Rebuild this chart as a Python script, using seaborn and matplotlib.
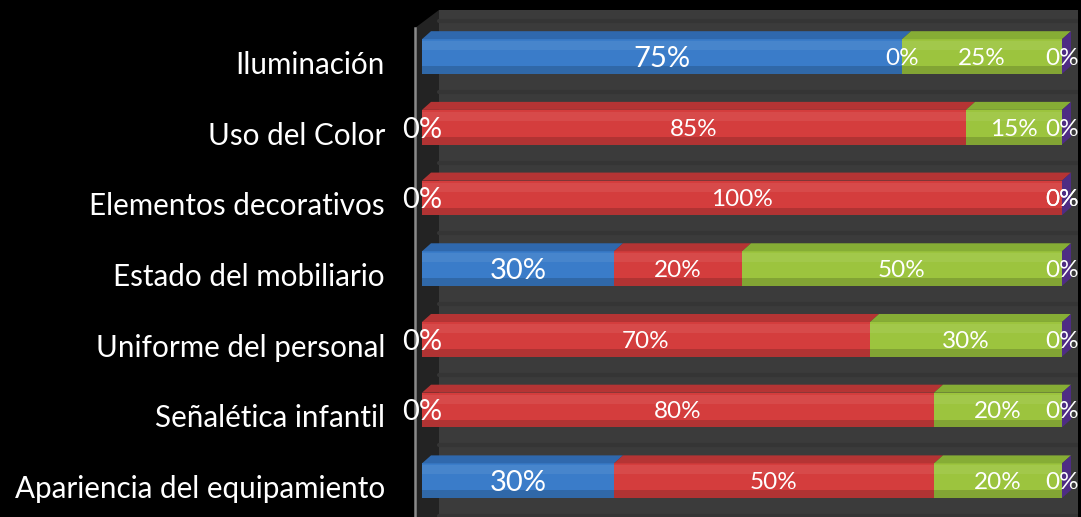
import numpy as np
import pandas as pd
import matplotlib
matplotlib.use("Agg")
import matplotlib.pyplot as plt
import seaborn as sns
from matplotlib.patches import Polygon, Rectangle
from matplotlib.transforms import ScaledTranslation

# ---------------- data ----------------
categories = ["Iluminación", "Uso del Color", "Elementos decorativos",
              "Estado del mobiliario", "Uniforme del personal",
              "Señalética infantil", "Apariencia del equipamiento"]
series_names = ["Serie 1", "Serie 2", "Serie 3", "Serie 4"]
serie_1 = [75, 0, 0, 30, 0, 0, 30]      # azul
serie_2 = [0, 85, 100, 20, 70, 80, 50]  # rojo
serie_3 = [25, 15, 0, 50, 30, 20, 20]   # verde
serie_4 = [0, 0, 0, 0, 0, 0, 0]         # morado

# ---------------- style ----------------
sns.set_style("dark")
plt.rcParams["font.family"] = ["Lato", "DejaVu Sans"]

front_col = {"Serie 1": "#3a7cc9", "Serie 2": "#d43d3d",
             "Serie 3": "#9cc43e", "Serie 4": "#5a3a90"}
top_col = {"Serie 1": "#2f68ad", "Serie 2": "#b53434",
           "Serie 3": "#86ad35", "Serie 4": "#4a2f7a"}
side_col = "#4e2c84"

values = np.array([serie_1, serie_2, serie_3, serie_4], dtype=float)
cums = np.cumsum(values, axis=0)
starts = cums - values

rows = []
for j, name in enumerate(series_names):
    for i, cat in enumerate(categories):
        rows.append({"cat": cat, "series": name, "cum": cums[j, i]})
df = pd.DataFrame(rows)

W, H, DPI = 1081, 517, 100
fig = plt.figure(figsize=(W / DPI, H / DPI), dpi=DPI, facecolor="black")
ax_left_px, ax_right_px, ax_top_px = 415, 1078, 10
ax = fig.add_axes([ax_left_px / W, 0, (ax_right_px - ax_left_px) / W, (H - ax_top_px) / H])
ax.set_facecolor("black")

bar_w = 0.49
sns.barplot(data=df, x="cum", y="cat", hue="series",
            hue_order=series_names[::-1], order=categories,
            palette=front_col, dodge=False, width=bar_w, orient="h",
            saturation=1, linewidth=0, legend=False, ax=ax, zorder=3)

# axis limits: 0 -> px 422, 100 -> px 1062
px_per_unit = 6.4
ax.set_xlim((ax_left_px - 422) / px_per_unit, 100 + (ax_right_px - 1062) / px_per_unit)
row0, row_step = 56.5, 70.7
ax.set_ylim((H - row0) / row_step, (ax_top_px - row0) / row_step)

# ---- 3D box decoration (back wall + left wall) ----
wall_x0 = 24 / (ax_right_px - ax_left_px)
ax.add_patch(Rectangle((wall_x0, 0), 1 - wall_x0, 1, transform=ax.transAxes,
                       facecolor="#3b3b3b", edgecolor="none", zorder=0))
ax.add_patch(Polygon([(0, 0), (0, 1 - 18 / (H - ax_top_px)), (wall_x0, 1), (wall_x0, 0)],
                     closed=True, transform=ax.transAxes,
                     facecolor="#232323", edgecolor="none", zorder=0.5))
# faint grid stripes on the back wall
for i in range(len(categories) + 1):
    ax.axhline(i - 0.5, xmin=wall_x0, xmax=1, color="#353535", lw=3, zorder=1)

for s in ["top", "right", "bottom"]:
    ax.spines[s].set_visible(False)
ax.spines["left"].set_color("#8a8a8a")
ax.spines["left"].set_linewidth(1.8)
ax.spines["left"].set_bounds(ax.get_ylim()[0], (28 - row0) / row_step)
ax.spines["left"].set_zorder(2)

# ---- 3D faces of the bars ----
fig.canvas.draw()
tD = ax.transData
tInv = tD.inverted()
dx, dy = 9, 8  # depth in pixels


def depth(pt):
    p = tD.transform(pt)
    return tInv.transform((p[0] + dx, p[1] + dy))


for i in range(len(categories)):
    y_top = i - bar_w / 2
    y_bot = i + bar_w / 2
    for j, name in enumerate(series_names):
        a, b = starts[j, i], cums[j, i]
        if b > a:
            pts = [(a, y_top), (b, y_top), tuple(depth((b, y_top))), tuple(depth((a, y_top)))]
            ax.add_patch(Polygon(pts, closed=True, facecolor=top_col[name],
                                 edgecolor="none", zorder=4))
            # light band near the top of the front face, darker band at the bottom
            ax.add_patch(Rectangle((a, y_top + bar_w * 0.06), b - a, bar_w * 0.26,
                                   facecolor="white", alpha=0.07, edgecolor="none", zorder=4))
            ax.add_patch(Rectangle((a, y_bot - bar_w * 0.22), b - a, bar_w * 0.22,
                                   facecolor="black", alpha=0.16, edgecolor="none", zorder=4))
    # right side face (end of the stack)
    e = cums[-1, i]
    pts = [(e, y_bot), (e, y_top), tuple(depth((e, y_top))), tuple(depth((e, y_bot)))]
    ax.add_patch(Polygon(pts, closed=True, facecolor=side_col, edgecolor="none", zorder=4))

# ---- value labels ----
for i in range(len(categories)):
    for j, name in enumerate(series_names):
        v = values[j, i]
        xc = starts[j, i] + v / 2
        fs = 21 if j == 0 else 17.5
        ax.text(xc, i, f"{int(v)}%", ha="center", va="center_baseline",
                color="white", fontsize=fs, zorder=6)

# ---- category labels ----
ax.set_yticks(range(len(categories)))
ax.set_yticklabels(categories, fontsize=21.3, color="white")
ax.tick_params(axis="y", length=0, pad=21.6)
for lbl in ax.get_yticklabels():
    lbl.set_transform(lbl.get_transform() + ScaledTranslation(0, -6 / DPI, fig.dpi_scale_trans))
ax.set_xticks([])
ax.set_xlabel("")
ax.set_ylabel("")
ax.grid(False)

fig.savefig("out.png", dpi=DPI, facecolor="black")
